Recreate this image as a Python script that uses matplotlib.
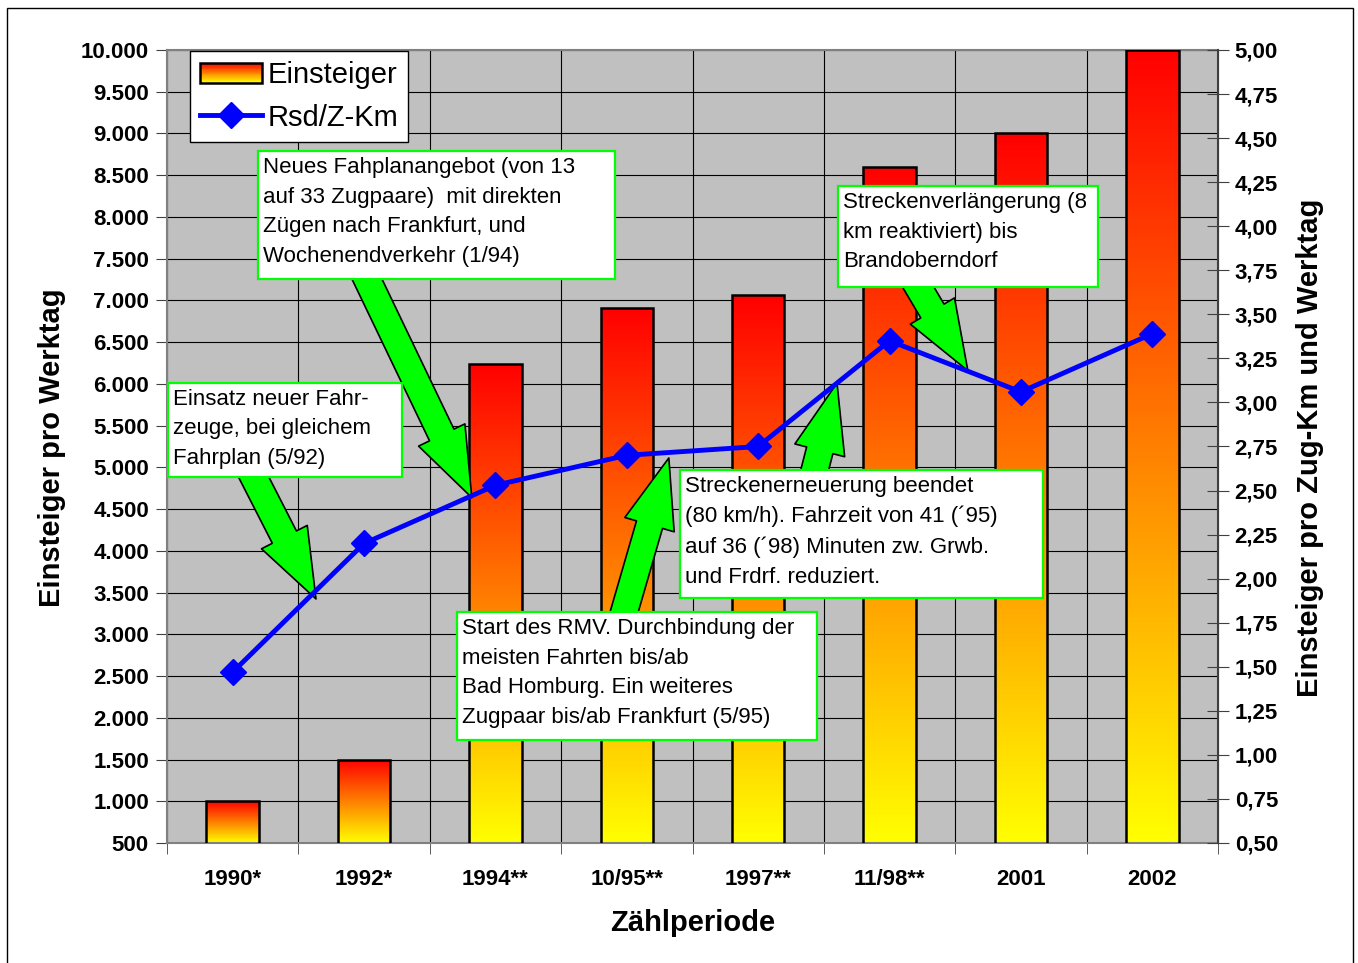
import matplotlib
matplotlib.use("Agg")
import matplotlib.pyplot as plt
import numpy as np
from matplotlib.colors import LinearSegmentedColormap
from matplotlib.patches import Rectangle
from matplotlib.lines import Line2D
from matplotlib.legend_handler import HandlerBase

plt.rcParams['font.family'] = ['Liberation Sans', 'DejaVu Sans']

# Daten
perioden = ['1990*', '1992*', '1994**', '10/95**', '1997**', '11/98**', '2001', '2002']
einsteiger = [1000, 1500, 6240, 6910, 7060, 8600, 9000, 10000]
rsd_zkm = [1.47, 2.20, 2.53, 2.70, 2.75, 3.35, 3.06, 3.39]

links_ticks = np.arange(500, 10001, 500)
rechts_ticks = np.arange(0.5, 5.001, 0.25)

cmap = LinearSegmentedColormap.from_list('gelbrot', ['#FFFF00', '#FF0000'])


class GradientHandler(HandlerBase):
    def create_artists(self, legend, orig_handle, xdescent, ydescent,
                       width, height, fontsize, trans):
        arts = []
        n = 24
        for k in range(n):
            r = Rectangle((-xdescent, -ydescent + height * k / n), width, height / n * 1.05,
                          facecolor=cmap(k / (n - 1)), edgecolor='none', transform=trans)
            arts.append(r)
        arts.append(Rectangle((-xdescent, -ydescent), width, height, fill=False,
                              edgecolor='black', lw=1.8, transform=trans))
        return arts


fig = plt.figure(figsize=(13.58, 9.63), dpi=100)
ax = fig.add_axes([167 / 1358, 1 - 843 / 963, 1051 / 1358, 793 / 963])
ax.set_facecolor('#C0C0C0')

x = np.arange(len(perioden))
ymin, ymax = 500, 10000

bars = ax.bar(x, einsteiger, width=0.4, color='none', edgecolor='black', lw=1.8, zorder=3)
grad = np.linspace(0, 1, 256).reshape(-1, 1)
for b in bars:
    x0 = b.get_x()
    im = ax.imshow(grad, extent=[x0, x0 + b.get_width(), ymin, b.get_height()],
                   origin='lower', cmap=cmap, aspect='auto', zorder=2.5)
    im.set_clip_path(b)

ax.set_xlim(-0.5, len(perioden) - 0.5)
ax.set_ylim(ymin, ymax)
ax.set_yticks(links_ticks)
ax.set_yticklabels([f"{v:,.0f}".replace(',', '.') for v in links_ticks])
ax.set_xticks(x)
ax.set_xticklabels(perioden)
ax.set_xticks(np.arange(-0.5, len(perioden)), minor=True)
ax.tick_params(axis='x', which='major', length=0, pad=19, labelsize=16)
ax.tick_params(axis='x', which='minor', length=8, color='#404040', direction='out')
ax.tick_params(axis='y', length=8, color='#404040', pad=5, labelsize=16)
for lab in ax.get_xticklabels() + ax.get_yticklabels():
    lab.set_fontweight('bold')
ax.grid(True, axis='y', which='major', color='black', lw=0.8, zorder=1)
ax.grid(True, axis='x', which='minor', color='black', lw=0.8, zorder=1)
ax.set_axisbelow(True)
for s in ['top', 'left', 'bottom']:
    ax.spines[s].set_color('#808080')
    ax.spines[s].set_linewidth(1.5)

ax2 = ax.twinx()
ax2.set_ylim(0.5, 5.0)
ax2.set_yticks(rechts_ticks)
ax2.set_yticklabels([f"{v:.2f}".replace('.', ',') for v in rechts_ticks])
ax2.tick_params(axis='y', direction='inout', length=16, color='#404040', pad=4, labelsize=16)
for lab in ax2.get_yticklabels():
    lab.set_fontweight('bold')
ax2.spines['right'].set_color('#404040')
ax2.spines['right'].set_linewidth(1.5)
for s in ['top', 'left', 'bottom']:
    ax2.spines[s].set_visible(False)

ax2.plot(x, rsd_zkm, color='#0000FF', lw=3.5, marker='D', markersize=13.5, zorder=4)

# Pfeile (Start im Kasten, Spitze an der Linie)
pfeile = [((0.99, 3.75), (1.82, 2.46)),
          ((0.13, 2.62), (0.634, 1.885)),
          ((2.917, 1.65), (3.32, 2.685)),
          ((4.39, 2.50), (4.60, 3.11)),
          ((5.19, 3.69), (5.596, 3.18))]
for start, spitze in pfeile:
    ax2.annotate('', xy=spitze, xytext=start, zorder=3,
                 arrowprops=dict(arrowstyle='simple,head_length=50,head_width=37,tail_width=19.5',
                                 mutation_scale=1, fc='#00FF00', ec='black', lw=1.2,
                                 shrinkA=0, shrinkB=0))

kaesten = [
    ((0.0866, 0.7112, 0.4263, 0.8726),
     "Neues Fahplanangebot (von 13\nauf 33 Zugpaare)  mit direkten\nZügen nach Frankfurt, und\nWochenendverkehr (1/94)"),
    ((0.001, 0.4615, 0.2236, 0.5801),
     "Einsatz neuer Fahr-\nzeuge, bei gleichem\nFahrplan (5/92)"),
    ((0.6384, 0.7011, 0.8858, 0.8285),
     "Streckenverlängerung (8\nkm reaktiviert) bis\nBrandoberndorf"),
    ((0.4881, 0.3090, 0.8335, 0.4704),
     "Streckenerneuerung beendet\n(80 km/h). Fahrzeit von 41 (´95)\nauf 36 (´98) Minuten zw. Grwb.\nund Frdrf. reduziert."),
    ((0.2759, 0.1299, 0.6185, 0.2913),
     "Start des RMV. Durchbindung der\nmeisten Fahrten bis/ab\nBad Homburg. Ein weiteres\nZugpaar bis/ab Frankfurt (5/95)"),
]
for (x0, y0, x1, y1), txt in kaesten:
    ax2.add_patch(Rectangle((x0, y0), x1 - x0, y1 - y0, transform=ax2.transAxes,
                            facecolor='white', edgecolor='#00FF00', lw=1.6, zorder=5))
    ax2.text(x0 + 0.005, y1 - 0.007, txt, transform=ax2.transAxes, ha='left', va='top',
             fontsize=16, linespacing=1.56, zorder=6)

handles = [Rectangle((0, 0), 1, 1),
           Line2D([], [], color='#0000FF', lw=3.5, marker='D', markersize=13)]
leg = ax2.legend(handles, ['Einsteiger', 'Rsd/Z-Km'], loc='upper left',
                 bbox_to_anchor=(0.022, 0.999), borderaxespad=0, fontsize=21,
                 handler_map={Rectangle: GradientHandler()}, handlelength=2.1,
                 handleheight=0.7, handletextpad=0.2, labelspacing=0.5, borderpad=0.35,
                 fancybox=False, framealpha=1, edgecolor='black')
leg.get_frame().set_linewidth(1.0)
leg.set_zorder(7)

fig.text(52 / 1358, 1 - 448 / 963, 'Einsteiger pro Werktag', rotation=90, ha='center',
         va='center', fontsize=21, fontweight='bold')
fig.text(1310 / 1358, 1 - 448 / 963, 'Einsteiger pro Zug-Km und Werktag', rotation=90,
         ha='center', va='center', fontsize=21, fontweight='bold')
fig.text(693 / 1358, 1 - 923 / 963, 'Zählperiode', ha='center', va='center',
         fontsize=21, fontweight='bold')

fig.patches.append(Rectangle((7 / 1358, -0.01), 1346 / 1358, 1 - 8 / 963 + 0.01,
                             transform=fig.transFigure, fill=False, ec='black', lw=1))

fig.savefig('out.png', dpi=100)
